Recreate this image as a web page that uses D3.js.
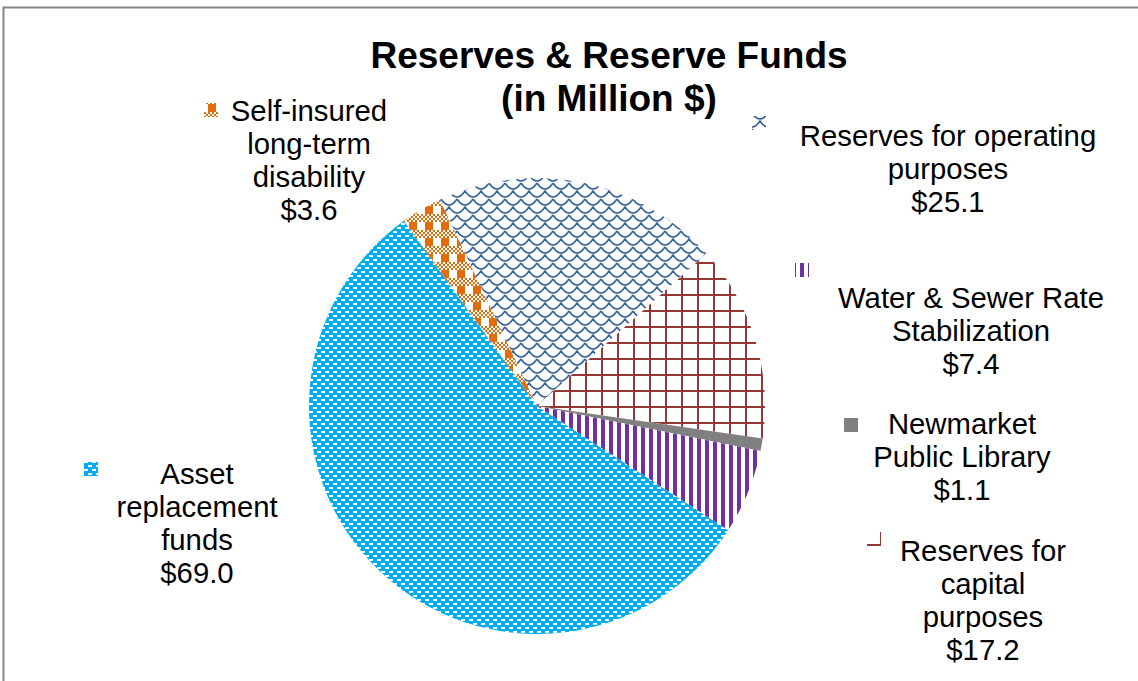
<!DOCTYPE html>
<html>
<head>
<meta charset="utf-8">
<script src="https://cdn.jsdelivr.net/npm/d3@7"></script>
<style>
  html, body { margin: 0; padding: 0; background: #fff; overflow: hidden; }
  text { font-family: "Liberation Sans", Arial, sans-serif; }
</style>
</head>
<body>
<svg id="chart" width="1138" height="681"></svg>
<script>
// Reserve fund balances, in million dollars (clockwise order around the pie)
const categories = [
  "Asset replacement funds",
  "Self-insured long-term disability",
  "Reserves for operating purposes",
  "Reserves for capital purposes",
  "Newmarket Public Library",
  "Water & Sewer Rate Stabilization"
];
const values = [69.0, 3.6, 25.1, 17.2, 1.1, 7.4];
const labelLines = [
  ["Asset", "replacement", "funds"],
  ["Self-insured", "long-term", "disability"],
  ["Reserves for operating", "purposes"],
  ["Reserves for", "capital", "purposes"],
  ["Newmarket", "Public Library"],
  ["Water & Sewer Rate", "Stabilization"]
];
const titleLines = ["Reserves & Reserve Funds", "(in Million $)"];

// Layout of the data labels: text centre, first baseline, legend key corner
const labelLayout = [
  { cx: 197, y: 484, kx: 84,  ky: 462 },
  { cx: 309, y: 121, kx: 204, ky: 103 },
  { cx: 948, y: 146, kx: 752, ky: 116 },
  { cx: 983, y: 561, kx: 867, ky: 532 },
  { cx: 962, y: 434, kx: 844, ky: 418 },
  { cx: 971, y: 308, kx: 795, ky: 263 }
];

const W = 1138, H = 681;
const cx = 537, cy = 406, radius = 228;
const startDeg = 123;
const lineH = 33;

const svg = d3.select("#chart");
const defs = svg.append("defs");

// Fill patterns
function pattern(id, w, h) {
  return defs.append("pattern")
    .attr("id", id)
    .attr("patternUnits", "userSpaceOnUse")
    .attr("width", w).attr("height", h);
}

// Asset replacement: blue with staggered white dashes
{
  const p = pattern("pAsset", 8, 8);
  p.append("rect").attr("width", 8).attr("height", 8).attr("fill", "#00AEEF");
  p.append("rect").attr("x", 0).attr("y", 1).attr("width", 4).attr("height", 2).attr("fill", "#fff").attr("shape-rendering", "crispEdges");
  p.append("rect").attr("x", 4).attr("y", 5).attr("width", 4).attr("height", 2).attr("fill", "#fff").attr("shape-rendering", "crispEdges");
}
// Self-insured: orange plaid
{
  const p = pattern("pSelf", 16, 16);
  p.append("rect").attr("width", 16).attr("height", 16).attr("fill", "#fff");
  for (let r = 0; r < 4; r++) {
    for (let c = 0; c < 8; c++) {
      if ((r + c) % 2 === 0) {
        p.append("rect").attr("x", c * 2).attr("y", r * 2).attr("width", 2).attr("height", 2)
          .attr("fill", "#E46C0A").attr("shape-rendering", "crispEdges");
      }
    }
  }
  p.append("rect").attr("x", 0).attr("y", 8).attr("width", 8).attr("height", 8)
    .attr("fill", "#E46C0A").attr("shape-rendering", "crispEdges");
}
// Operating: navy scale waves
{
  const p = pattern("pOper", 16, 16);
  p.append("rect").attr("width", 16).attr("height", 16).attr("fill", "#fff");
  const st = "#36609A";
  p.append("path").attr("d", "M0,1 Q8,13 16,1").attr("fill", "none").attr("stroke", st).attr("stroke-width", 1.6);
  p.append("path").attr("d", "M-8,9 Q0,21 8,9 Q16,21 24,9").attr("fill", "none").attr("stroke", st).attr("stroke-width", 1.6);
  p.append("path").attr("d", "M-8,-7 Q0,5 8,-7 Q16,5 24,-7").attr("fill", "none").attr("stroke", st).attr("stroke-width", 1.6);
}
// Capital: dark red grid
{
  const p = pattern("pCap", 16, 16);
  p.append("rect").attr("width", 16).attr("height", 16).attr("fill", "#fff");
  p.append("rect").attr("x", 0).attr("y", 0).attr("width", 16).attr("height", 2).attr("fill", "#953735").attr("shape-rendering", "crispEdges");
  p.append("rect").attr("x", 0).attr("y", 0).attr("width", 2).attr("height", 16).attr("fill", "#953735").attr("shape-rendering", "crispEdges");
}
// Water & sewer: purple vertical stripes
{
  const p = pattern("pWater", 8, 8);
  p.append("rect").attr("width", 8).attr("height", 8).attr("fill", "#fff");
  p.append("rect").attr("x", 0).attr("y", 0).attr("width", 4).attr("height", 8).attr("fill", "#7030A0").attr("shape-rendering", "crispEdges");
}

const fills = [
  "url(#pAsset)", "url(#pSelf)", "url(#pOper)", "url(#pCap)", "#808080", "url(#pWater)"
];

// Chart area border
svg.append("rect")
  .attr("x", 3.5).attr("y", 7.5)
  .attr("width", W + 10).attr("height", H + 10)
  .attr("fill", "none").attr("stroke", "#868686").attr("stroke-width", 2);

// Pie
const start = startDeg * Math.PI / 180;
const pie = d3.pie().sort(null).value(d => d)
  .startAngle(start).endAngle(start + 2 * Math.PI);
const arc = d3.arc().innerRadius(0).outerRadius(radius);

svg.append("g")
  .attr("transform", `translate(${cx},${cy})`)
  .selectAll("path")
  .data(pie(values))
  .join("path")
  .attr("d", arc)
  .attr("fill", (d, i) => fills[i]);

// Title
svg.append("g").selectAll("text")
  .data(titleLines)
  .join("text")
  .attr("x", 609)
  .attr("y", (d, i) => 68 + i * 43)
  .attr("text-anchor", "middle")
  .attr("font-size", "37px")
  .attr("font-weight", "bold")
  .attr("fill", "#000")
  .text(d => d);

// Data labels with legend keys
const fmt = d3.format(".1f");
const labels = svg.append("g");
categories.forEach((name, i) => {
  const L = labelLayout[i];
  const lines = labelLines[i].concat(["$" + fmt(values[i])]);
  labels.append("rect")
    .attr("x", L.kx).attr("y", L.ky)
    .attr("width", 14).attr("height", 14)
    .attr("fill", fills[i]);
  labels.append("g").selectAll("text")
    .data(lines)
    .join("text")
    .attr("x", L.cx)
    .attr("y", (d, j) => L.y + j * lineH)
    .attr("text-anchor", "middle")
    .attr("font-size", "29.3px")
    .attr("fill", "#000")
    .text(d => d);
});
</script>
</body>
</html>
